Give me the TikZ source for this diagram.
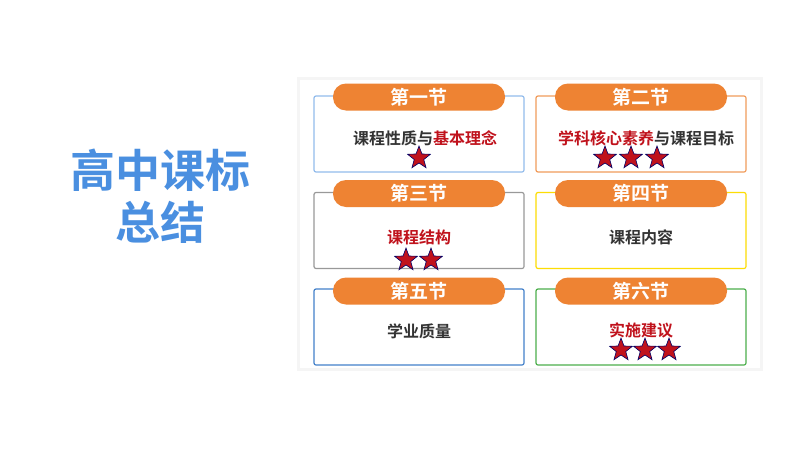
\documentclass[tikz,border=0pt]{standalone}
\usepackage{fontspec}
\newfontfamily\cjk{Noto Sans CJK SC}[BoldFont={* Bold}]
\usetikzlibrary{shapes.geometric,shadows}
\definecolor{ttl}{HTML}{4A8FE0}
\definecolor{org}{HTML}{EE8333}
\definecolor{dred}{HTML}{C0121C}
\definecolor{txt}{HTML}{333333}
\tikzset{
  pill/.style={fill=org,rounded corners=13pt,minimum width=172pt,minimum height=27pt,inner sep=0pt,text=white,font=\cjk\bfseries\fontsize{19}{19}\selectfont},
  card/.style={draw=#1,line width=1.2pt,rounded corners=2pt,minimum width=210pt,minimum height=76pt,inner sep=0pt,fill=white},
  lbl/.style={text=txt,font=\cjk\bfseries\fontsize{16}{16}\selectfont,inner sep=0pt},
  rstar/.style={star,star points=5,star point ratio=2.4,fill=dred,draw=black!60!blue,line width=0.6pt,minimum size=24pt,inner sep=0pt},
  ttlf/.style={text=ttl,font=\cjk\bfseries\fontsize{45}{48}\selectfont,inner sep=0pt}
}
\begin{document}
\begin{tikzpicture}[x=1pt,y=-1pt]
\useasboundingbox (0,0) rectangle (800,450);
\fill[white] (0,0) rectangle (800,450);
\node[ttlf] (t1) at (160,170) {高中课标};
\node[ttlf] (t2) at (160,222) {总结};
\fill[black!4] (297,77) rectangle (763,371);
\fill[white] (300,80) rectangle (760,368);
% cards
\node[card=ttl!60] (c1) at (419,134) {};
\node[card=org!80] (c2) at (641,134) {};
\node[card=black!40] (c3) at (419,230.5) {};
\node[card=yellow!80!orange] (c4) at (641,230.5) {};
\node[card=ttl!90!black] (c5) at (419,327) {};
\node[card=green!55!black!70] (c6) at (641,327) {};
\node[pill] (p1) at (419,97) {第一节};
\node[pill] (p2) at (641,97) {第二节};
\node[pill] (p3) at (419,193.5) {第三节};
\node[pill] (p4) at (641,193.5) {第四节};
\node[pill] (p5) at (419,291) {第五节};
\node[pill] (p6) at (641,291) {第六节};
\node[lbl] (l1) at (425,138) {课程性质与\textcolor{dred}{基本理念}};
\node[lbl] (l2) at (646,138) {\textcolor{dred}{学科核心素养}与课程目标};
\node[lbl] (l3) at (419,237) {\textcolor{dred}{课程结构}};
\node[lbl] (l4) at (641,237) {课程内容};
\node[lbl] (l5) at (419,331) {学业质量};
\node[lbl] (l6) at (641,330) {\textcolor{dred}{实施建议}};
\node[rstar] (s1) at (419,158) {};
\node[rstar] (s2a) at (605,158) {};
\node[rstar] (s2b) at (631,158) {};
\node[rstar] (s2c) at (657,158) {};
\node[rstar] (s3a) at (406,260) {};
\node[rstar] (s3b) at (431,260) {};
\node[rstar] (s6a) at (621,350) {};
\node[rstar] (s6b) at (645,350) {};
\node[rstar] (s6c) at (669,350) {};
\end{tikzpicture}
\end{document}
